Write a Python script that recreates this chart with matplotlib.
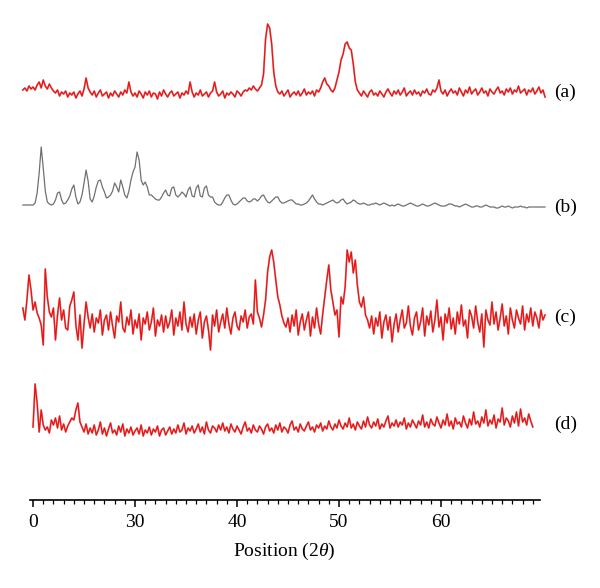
import matplotlib
matplotlib.use("Agg")
import matplotlib.pyplot as plt
import numpy as np
from matplotlib.ticker import MultipleLocator, FixedLocator, FixedFormatter

#Scan steps (2 theta)
StartA = 19.0
StartB = 19.0
StartC = 19.0
StartD = 20.0
Step = 0.2

#Intensities (arbitrary units, baseline = 0)
IntensityA = [4, 6, 3, 8, 5, 7, 4, 9, 12, 6,
              14, 8, 5, 10, 6, 3, 1, 4, -2, 2,
              0, 3, -3, 1, -1, 2, -4, 0, 3, -2,
              5, 16, 6, 2, -1, 3, -3, 1, 4, -2,
              0, 2, -4, 1, -2, 3, 0, -3, 2, -1,
              4, 1, 12, 2, -2, 1, -3, 3, 0, -4,
              2, -1, 3, -3, 1, 0, -5, 2, -2, 4,
              0, -3, 1, 3, -2, 0, 2, -4, 1, -1,
              3, 0, 12, 2, -3, 1, -1, 4, -2, 0,
              2, -3, 1, 3, 12, 2, -2, 0, 3, -4,
              1, -1, 2, 0, -3, 3, 1, -2, 2, 4,
              3, 6, 4, 8, 5, 3, 6, 9,
              20, 55, 70, 66, 50, 22, 8, 2,
              0, 3, -2, 1, 4, -3, 0, 2, -1, 3,
              -2, 1, 5, -1, 2, 0, 3, -2, 4, 2,
              6, 12, 16, 10, 8, 4, 2, 6,
              14, 22, 34, 40, 50, 52, 46, 44, 30, 12, 4,
              1, -2, 3, 0, -3, 2, 4, -1, 1, -2,
              3, 0, -3, 2, 5, 1, -2, 3, 0, 4,
              -1, 2, 6, -2, 1, 3, -1, 4, 0, 2,
              -2, 3, 1, 5, 0, -1, 4, 2, 6, 14,
              3, 0, 4, -2, 2, 5, 1, 3, -1, 6,
              2, -2, 4, 1, 7, 0, 3, 5, -1, 2,
              6, 1, 3, -2, 5, 2, 0, 4, 7, 1,
              3, -1, 5, 2, 6, 0, 4, 2, 8, 1,
              3, 5, -1, 4, 2, 6, 0, 3, 7, 1, 4, -3]

IntensityB = [0, 0, 0, 0, 0, 0, 2, 12, 32, 58,
              37, 14, 3, 1, 0, 1, 5, 12, 13, 5,
              1, 2, 5, 9, 16, 20, 8, 1, 3, 10,
              22, 35, 24, 6, 3, 9, 18, 24, 25, 18,
              13, 7, 8, 10, 14, 22, 18, 13, 25, 18,
              10, 7, 14, 25, 33, 38, 53, 45, 25, 20,
              23, 18, 10, 10, 8, 6, 5, 5, 8, 12,
              15, 10, 9, 17, 18, 10, 8, 10, 13, 11,
              8, 15, 18, 9, 8, 17, 20, 9, 8, 17,
              19, 10, 8, 8, 3, 1, 0, 0, 3, 7,
              10, 10, 5, 1, 0, 1, 3, 5, 7, 7,
              4, 3, 4, 6, 6, 4, 6, 9, 10, 6,
              3, 2, 4, 6, 8, 8, 4, 2, 2, 3,
              4, 5, 5, 3, 1, 1, 0, 0, 1, 2,
              4, 7, 10, 6, 3, 1, 1, 0, 1, 2,
              3, 4, 5, 3, 2, 3, 5, 6, 3, 1,
              2, 3, 5, 4, 2, 1, 1, 2, 1, 0,
              0, 1, 1, 2, 1, 0, 1, 2, 1, 0,
              -1, 0, -1, 0, 1, 0, -1, -1, 0, 1,
              2, 1, 0, -1, -1, 0, 1, 0, -1, -1,
              0, 1, 2, 1, 0, -1, -1, -1, 0, 1,
              1, 0, -1, -1, -2, -1, 0, 1, 0, -1,
              -2, -2, -1, -1, -2, -2, -1, 0, -1, -2,
              -2, -2, -3, -3, -2, -1, -2, -2, -1, -2,
              -3, -2, -2, -2, -1, -2, -2, -3, -2, -2,
              -2, -2, -2, -2, -2, -2, -2]

IntensityC = [12, 0, 20, 45, 30, 10, 18, 7, 2, -5,
              -25, 51, 23, 8, 3, 12, -20, 5, 22, 0,
              10, -8, -10, 14, 20, 28, -5, -20, 5, -28,
              -4, 18, 3, -8, 6, -12, 2, -3, 10, -15,
              0, 5, -10, 8, -6, -18, 4, -2, 18, -8,
              -12, 3, -5, 10, -14, 0, -8, 6, -20, 2,
              -4, 8, -10, -2, 12, -16, 0, -6, 5, -12,
              4, -8, -2, 10, -15, 2, -6, 8, -10, 18,
              -4, -12, 3, -7, 6, -14, 0, 8, -18, -2,
              4, -10, -30, 5, -6, 10, -12, -2, 6, -8,
              12, -4, -14, 2, 8, -6, -10, 4, -2, 10,
              -8, 3, 6, -4, 40, 8, 2, -7,
              5, 20, 48, 63, 70, 58, 40, 23, 15, 4, -3, -7,
              2, -12, 5, -6, 10, -15, -2, 6, -10, 0,
              8, -16, 3, -8, 12, -4, -14, 6,
              23, 40, 55, 30, 18, 5, 10, -17, 23, 16,
              33, 70, 58, 68, 47, 60, 35, 18, 13, 23, 5, 0,
              -8, 4, -14, 2, -6, 8, -18, -2, 5, -10,
              3, -22, -4, 6, -12, 0, 10, -8, -3, 14,
              -6, -15, 2, 8, -10, -2, 12, -16, 4, -5,
              9, -12, 0, 20, -7, 3, -20, 6, -3, 12,
              -9, 2, -14, 8, -4, 15, -6, 0, -18, 10,
              4, -8, 14, -2, -12, 6, -27, 10, 0, -5,
              18, -4, 8, -10, 2, 16, -6, 4, -14, 12,
              0, -8, 10, 2, -4, 14, -10, 6, -2, 12,
              -6, 8, 2, -8, 10, 0, 5]

IntensityD = [3, 46, 27, -2, 20, 5, 0, 3, -3, 10,
              5, 12, 2, 14, 0, 6, -2, 4, 8, 12,
              10, 20, 27, 8, 3, -2, 6, -4, 2, -3,
              5, -5, 0, 8, -4, 2, -6, 1, 7, -3,
              0, -5, 4, -2, 6, -6, 1, -3, 3, -5,
              -1, 2, -4, 5, -6, 0, -3, 3, -5, 1,
              -2, 4, -6, 0, 2, -5, -1, 3, -4, 1,
              -3, 5, -2, 0, 7, -4, 2, -1, 4, -3,
              1, 6, -2, 3, -4, 8, 0, -3, 4, 2,
              -2, 5, 0, 7, -1, 3, -3, 6, 1, -2,
              4, 0, -4, 3, 8, -1, 2, -3, 5, 0,
              -2, 4, 1, -4, 3, 6, -1, 2, -3, 5,
              0, 7, -2, 3, 1, -3, 5, 9, 0, 3,
              -2, 6, 1, -1, 4, 8, 0, 3, -2, 5,
              2, 7, -1, 4, 1, 9, 3, 0, 6, 2,
              10, 4, 1, 7, 3, 12, 2, 6, 0, 8,
              4, 1, 9, 3, 13, 5, 2, 8, 4, 11,
              1, 6, 3, 9, 14, 2, 7, 4, 10, 3,
              8, 5, 12, 1, 7, 3, 10, 6, 2, 9,
              5, 15, 3, 8, 2, 11, 6, 4, 13, 7,
              2, 10, 5, 16, 4, 9, 1, 12, 6, 8,
              3, 14, 7, 2, 11, 5, 18, 6, 9, 3,
              13, 7, 20, 4, 10, 6, 15, 2, 11, 8,
              22, 5, 12, 9, 3, 14, 7, 18, 4, 21,
              8, 12, 5, 16, 9, 3]

Labels = ["(a)", "(b)", "(c)", "(d)"]
TickValues = [20, 30, 40, 50, 60]
TickLabels = ["0", "30", "40", "50", "60"]

plt.rcParams['font.family'] = ['Liberation Serif', 'DejaVu Serif']
plt.rcParams['mathtext.fontset'] = 'custom'
plt.rcParams['mathtext.rm'] = 'Liberation Serif'
plt.rcParams['mathtext.it'] = 'Liberation Serif:italic'


def Positions(Start, Values):
    return Start + Step * np.arange(len(Values))


def Graphic():
    Figure = plt.figure(figsize=(6.0, 5.88), dpi=100)
    Ax = Figure.add_axes([0, 0, 1, 1])
    Ax.set_xlim(16.76, 75.59)
    Ax.set_ylim(0, 588)
    Ax.axis('off')

    #Vertical offsets of the stacked patterns
    Offsets = [494, 383, 268, 158]
    Colors = ['#ee1111', '#707070', '#ee1111', '#ee1111']
    Series = [(StartA, IntensityA), (StartB, IntensityB), (StartC, IntensityC), (StartD, IntensityD)]

    for (Start, Values), Offset, Color in zip(Series, Offsets, Colors):
        X = Positions(Start, Values)
        Y = np.array(Values) + Offset
        if Color != '#707070':
            Ax.plot(X, Y, color='#b85050', lw=1.4, alpha=0.55)
        Ax.plot(X, Y, color=Color, lw=0.9)

    #Labels on the right
    for Label, YPix in zip(Labels, [92, 207, 317, 424]):
        Figure.text(554 / 600, 1 - YPix / 588, Label, fontsize=14, ha='left', va='center')

    #Bottom axis
    AxisBar = Figure.add_axes([0, 1 - 500 / 588, 1, 0.0001])
    AxisBar.set_xlim(16.76, 75.59)
    AxisBar.set_yticks([])
    for Side in ['top', 'left', 'right']:
        AxisBar.spines[Side].set_visible(False)
    AxisBar.spines['bottom'].set_bounds(19.7, 69.7)
    AxisBar.spines['bottom'].set_linewidth(1.2)
    AxisBar.patch.set_visible(False)
    AxisBar.xaxis.set_major_locator(FixedLocator(TickValues))
    AxisBar.xaxis.set_major_formatter(FixedFormatter(TickLabels))
    AxisBar.xaxis.set_minor_locator(FixedLocator([v for v in range(20, 70) if v % 10 != 0]))
    AxisBar.tick_params(axis='x', which='major', length=5, width=1.1, direction='out', labelsize=14, pad=5)
    AxisBar.tick_params(axis='x', which='minor', length=3, width=0.9, direction='out')

    Figure.text(284 / 600, 1 - 551 / 588, "Position (2$\\theta$)", fontsize=14, ha='center', va='center')

    Figure.savefig("out.png", dpi=100)


if __name__ == "__main__":
    Graphic()
